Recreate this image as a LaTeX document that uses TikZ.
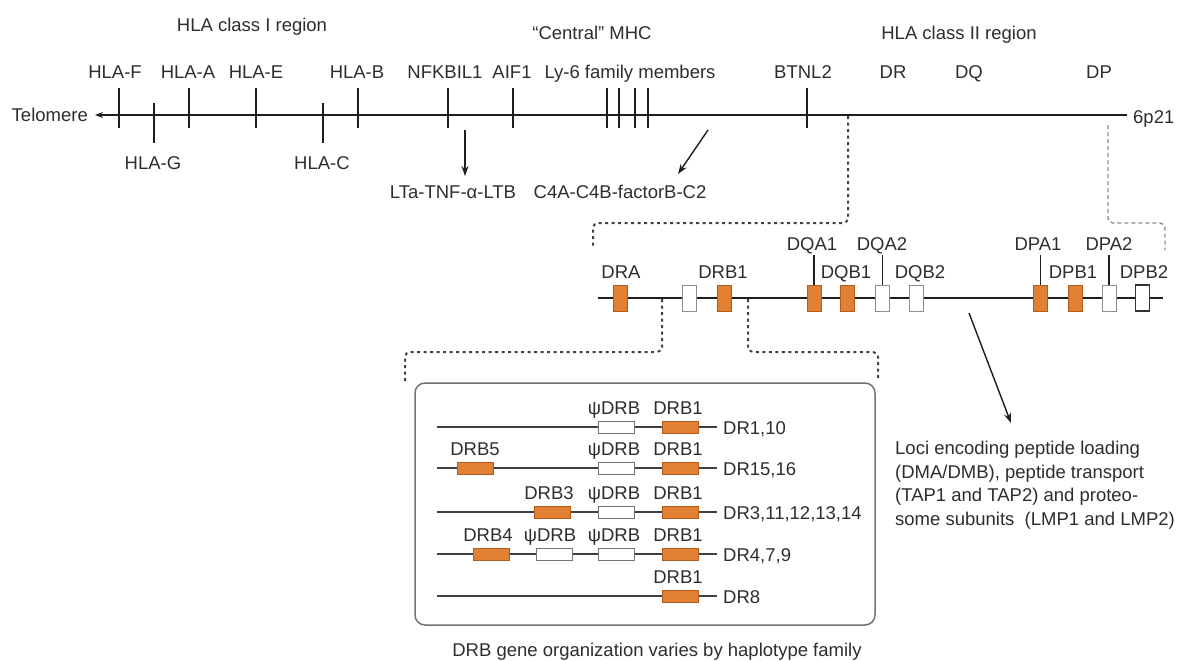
\documentclass[tikz,border=0pt]{standalone}
\usepackage{fontspec}
\setmainfont{Liberation Sans}
\usetikzlibrary{arrows.meta}
\definecolor{org}{RGB}{226,128,52}
\definecolor{orgdk}{RGB}{180,92,30}
\definecolor{txt}{RGB}{45,45,45}
\definecolor{ln}{RGB}{30,30,30}
\tikzset{
  lbl/.style={font=\fontsize{18.5}{22}\selectfont, text=txt, inner sep=0pt, text height=13.3pt, text depth=0pt},
  tick/.style={draw=ln, line width=1.2pt},
  chrom/.style={draw=ln, line width=1.5pt},
  arr/.style={draw=ln, line width=1.4pt, -{Stealth[length=10pt,width=7pt]}},
  obox/.style={draw=orgdk, fill=org, line width=0.8pt, minimum width=14pt, minimum height=26pt, inner sep=0pt},
  wbox/.style={draw=black!45, fill=white, line width=1pt, minimum width=14pt, minimum height=26pt, inner sep=0pt},
  kbox/.style={draw=black!80, fill=white, line width=1.2pt, minimum width=14pt, minimum height=26pt, inner sep=0pt},
  odrb/.style={draw=orgdk, fill=org, line width=0.8pt, minimum width=36pt, minimum height=12pt, inner sep=0pt},
  wdrb/.style={draw=black!55, fill=white, line width=1pt, minimum width=36pt, minimum height=12pt, inner sep=0pt},
  rowline/.style={draw=black!75, line width=1.4pt},
  dotl/.style={draw=black!75, line width=2pt, dash pattern=on 3pt off 3.5pt, rounded corners=5pt},
  dashl/.style={draw=black!45, line width=1.4pt, dash pattern=on 4pt off 3pt, rounded corners=5pt},
  leader/.style={draw=ln, line width=1.1pt},
}
\begin{document}
\begin{tikzpicture}[x=1pt,y=-1pt]
\useasboundingbox (0,0) rectangle (1181,661);

% ---------- chromosome line ----------
\coordinate (chrL) at (95,115);
\coordinate (chrR) at (1127,115);
\draw[chrom, -{Stealth[length=8pt,width=6pt]}] (chrR) -- (chrL);
\node[lbl, anchor=east] (tel) at (88,115) {Telomere};
\node[lbl, anchor=west] (p21) at (1133,117) {6p21};

% region titles
\node[lbl] (cls1) at (252,25) {HLA class I region};
\node[lbl] (cent) at (592,33) {“Central” MHC};
\node[lbl] (cls2) at (959,33) {HLA class II region};

% ticks
\foreach \x in {119,189,256,358,448,513,607,619,635,648,807}
  \draw[tick] (\x,88) -- (\x,128);
\foreach \x in {154,323}
  \draw[tick] (\x,103) -- (\x,143);

% gene labels
\node[lbl] (hf) at (115,72) {HLA-F};
\node[lbl] (ha) at (188,72) {HLA-A};
\node[lbl] (he) at (256,72) {HLA-E};
\node[lbl] (hb) at (357,72) {HLA-B};
\node[lbl] (hg) at (153,163) {HLA-G};
\node[lbl] (hc) at (322,163) {HLA-C};
\node[lbl] (nfk) at (445,72) {NFKBIL1};
\node[lbl] (aif) at (512,72) {AIF1};
\node[lbl] (ly6) at (630,72) {Ly-6 family members};
\node[lbl] (btn) at (803,72) {BTNL2};
\node[lbl] (dr) at (893,72) {DR};
\node[lbl] (dq) at (969,72) {DQ};
\node[lbl] (dp) at (1099,72) {DP};

% central arrows
\node[lbl] (lt) at (453,192) {LTa-TNF-α-LTB};
\node[lbl] (c4) at (620,192) {C4A-C4B-factorB-C2};
\coordinate (a1s) at (465,130);
\coordinate (a1e) at (465,176);
\draw[arr] (a1s) -- (a1e);
\coordinate (a2s) at (708,130);
\coordinate (a2e) at (678,174);
\draw[arr] (a2s) -- (a2e);

% zoom connectors to class II
\draw[dotl] (848,116) -- (848,223) -- (593,223) -- (593,248);
\draw[dashl] (1108,125) -- (1108,223) -- (1165,223) -- (1165,250);

% ---------- class II gene line ----------
\coordinate (gL) at (598,298);
\coordinate (gR) at (1163,298);
\draw[draw=ln, line width=1.4pt] (gL) -- (gR);

\node[obox] (bDRA) at (620,298) {};
\node[wbox] (bW1) at (689,298) {};
\node[obox] (bDRB1) at (724,298) {};
\node[obox] (bDQA1) at (814,298) {};
\node[obox] (bDQB1) at (847.5,298) {};
\node[wbox] (bDQA2) at (882.5,298) {};
\node[wbox] (bDQB2) at (916.5,298) {};
\node[obox] (bDPA1) at (1040.5,298) {};
\node[obox] (bDPB1) at (1075,298) {};
\node[wbox] (bDPA2) at (1109,298) {};
\node[kbox] (bDPB2) at (1142.5,298) {};

\node[lbl] (lDRA) at (621,272) {DRA};
\node[lbl] (lDRB1) at (723,272) {DRB1};
\node[lbl] (lDQA1) at (812,244) {DQA1};
\node[lbl] (lDQB1) at (846,272) {DQB1};
\node[lbl] (lDQA2) at (882,244) {DQA2};
\node[lbl] (lDQB2) at (920,272) {DQB2};
\node[lbl] (lDPA1) at (1038,244) {DPA1};
\node[lbl] (lDPB1) at (1073,272) {DPB1};
\node[lbl] (lDPA2) at (1109,244) {DPA2};
\node[lbl] (lDPB2) at (1144,272) {DPB2};

\draw[leader] (bDQA1.north) -- (bDQA1.north |- 0,255);
\draw[leader] (bDQA2.north) -- (bDQA2.north |- 0,255);
\draw[leader] (bDPA1.north) -- (bDPA1.north |- 0,255);
\draw[leader] (bDPA2.north) -- (bDPA2.north |- 0,255);

% zoom connectors to DRB panel
\draw[dotl] (662,299) -- (662,352) -- (405,352) -- (405,382);
\draw[dotl] (748,299) -- (748,352) -- (878,352) -- (878,379);

% arrow to loci text
\coordinate (a3s) at (969,313);
\coordinate (a3e) at (1011,423);
\draw[arr] (a3s) -- (a3e);
\node[font=\fontsize{18.5}{23.5}\selectfont, text=txt, inner sep=0pt, align=left, anchor=north west] (loci) at (895,441)
  {Loci encoding peptide loading\\(DMA/DMB), peptide transport\\(TAP1 and TAP2) and proteo-\\some subunits\ \ (LMP1 and LMP2)};

% ---------- DRB panel ----------
\draw[draw=black!55, line width=1.5pt, rounded corners=10pt] (415,383) rectangle (875,625);

% row 1
\draw[rowline] (437,427) -- (717,427);
\node[wdrb] (r1p) at (616,427) {};
\node[odrb] (r1d) at (680,427) {};
\node[lbl] at (614,408) {ψDRB};
\node[lbl] at (678,408) {DRB1};
\node[lbl, anchor=west] (r1l) at (723,428) {DR1,10};
% row 2
\draw[rowline] (437,468) -- (717,468);
\node[odrb] (r2a) at (475,468) {};
\node[wdrb] (r2p) at (616,468) {};
\node[odrb] (r2d) at (680,468) {};
\node[lbl] at (475,449) {DRB5};
\node[lbl] at (614,449) {ψDRB};
\node[lbl] at (678,449) {DRB1};
\node[lbl, anchor=west] (r2l) at (723,469) {DR15,16};
% row 3
\draw[rowline] (437,512) -- (717,512);
\node[odrb] (r3a) at (552,512) {};
\node[wdrb] (r3p) at (616,512) {};
\node[odrb] (r3d) at (680,512) {};
\node[lbl] at (549,493) {DRB3};
\node[lbl] at (614,493) {ψDRB};
\node[lbl] at (678,493) {DRB1};
\node[lbl, anchor=west] (r3l) at (723,513) {DR3,11,12,13,14};
% row 4
\draw[rowline] (437,554) -- (717,554);
\node[odrb] (r4a) at (491.5,554) {};
\node[wdrb] (r4q) at (554,554) {};
\node[wdrb] (r4p) at (616,554) {};
\node[odrb] (r4d) at (680,554) {};
\node[lbl] at (488,535) {DRB4};
\node[lbl] at (550,535) {ψDRB};
\node[lbl] at (614,535) {ψDRB};
\node[lbl] at (678,535) {DRB1};
\node[lbl, anchor=west] (r4l) at (723,555) {DR4,7,9};
% row 5
\draw[rowline] (437,596) -- (717,596);
\node[odrb] (r5d) at (680,596) {};
\node[lbl] at (678,577) {DRB1};
\node[lbl, anchor=west] (r5l) at (723,597) {DR8};

\node[lbl] (cap) at (657,650) {DRB gene organization varies by haplotype family};
\end{tikzpicture}
\end{document}
